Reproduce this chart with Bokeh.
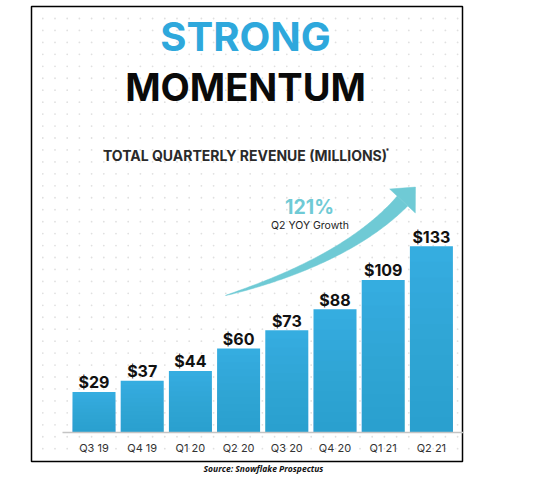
import numpy as np
from bokeh.plotting import figure
from bokeh.models import Range1d
from bokeh.core.properties import value
from bokeh.embed import file_html
from bokeh.resources import INLINE

# Quarterly revenue, $ millions
quarters = ["Q3 19", "Q4 19", "Q1 20", "Q2 20", "Q3 20", "Q4 20", "Q1 21", "Q2 21"]
revenue = [29, 37, 44, 60, 73, 88, 109, 133]
growth_label = "121%"
growth_caption = "Q2 YOY Growth"

W, H = 559, 479
FONT = value("Inter")
BLUE = "#35ade0"
TEAL = "#6fcad5"
# the SVG renderer sets alphabetic text a little low; lift baselines by this share of the font size
LIFT = 0.34

idx = np.arange(len(quarters))

# Bars live in (index, $M) space; decorations use a pixel-like extra range (y downwards).
PX_PER_UNIT = 1.4
BASE_PX = 432          # baseline position from the top
BAR0_PX, STEP_PX = 93.5, 48.2
p = figure(
    width=W, height=H,
    x_range=Range1d(-BAR0_PX / STEP_PX, (W - BAR0_PX) / STEP_PX),
    y_range=Range1d(-(H - BASE_PX) / PX_PER_UNIT, BASE_PX / PX_PER_UNIT),
    x_axis_location=None, y_axis_location=None,
    output_backend="svg", toolbar_location=None, min_border=0,
)
p.extra_x_ranges["px"] = Range1d(0, W)
p.extra_y_ranges["px"] = Range1d(H, 0)
p.grid.visible = False
p.outline_line_color = None
p.background_fill_color = "white"
p.border_fill_color = "white"

# dotted backdrop
gx = np.arange(42.3, 459, 12.2)
gy = np.arange(18.0, 456, 11.95)
dx, dy = np.meshgrid(gx, gy)
p.scatter(dx.ravel(), dy.ravel(), size=1.8, color="#e0e0e0", line_color=None,
          x_range_name="px", y_range_name="px")

# frame
p.quad(left=[31], right=[462], top=[6], bottom=[461], fill_color=None,
       line_color="black", line_width=1.5, x_range_name="px", y_range_name="px")

# bars with a soft vertical shading (darker towards the base)
bw = 43 / STEP_PX
p.vbar(x=idx, top=revenue, bottom=0, width=bw, fill_color=BLUE, line_color=None)
steps = 12
for j in range(1, steps):
    frac = 1 - j / steps
    p.vbar(x=idx, top=[v * frac for v in revenue], bottom=0, width=bw,
           fill_color="#1a7fb5", fill_alpha=0.025, line_color=None)

# baseline
p.segment(x0=[62], x1=[463], y0=[0], y1=[0], line_color="#c4c4c4", line_width=1.5,
          x_range_name="px")

# value labels, baseline 4px above each bar
lbl_px = 16
p.text(x=idx, y=[v + (4 + LIFT * lbl_px) / PX_PER_UNIT for v in revenue],
       text=[f"${v}" for v in revenue],
       text_font=FONT, text_font_size=f"{lbl_px}px", text_font_style="bold",
       text_color="#111111", text_align="center", text_baseline="alphabetic")

# category labels
cat_px = 11
p.text(x=idx, y=[451 - LIFT * cat_px] * len(quarters), text=quarters, y_range_name="px",
       text_font=FONT, text_font_size=f"{cat_px}px", text_color="#333333",
       text_align="center", text_baseline="alphabetic")

# growth arrow: tapered quadratic curve plus head
P0 = np.array([225.0, 295.0])
P1 = np.array([347.0, 259.6])
P2 = np.array([402.0, 200.5])
t = np.linspace(0, 1, 80)[:, None]
curve = (1 - t) ** 2 * P0 + 2 * (1 - t) * t * P1 + t ** 2 * P2
deriv = 2 * (1 - t) * (P1 - P0) + 2 * t * (P2 - P1)
tang = deriv / np.linalg.norm(deriv, axis=1, keepdims=True)
norm = np.column_stack([-tang[:, 1], tang[:, 0]])
half = 7.2 * t[:, 0] ** 0.75
upper = curve + norm * half[:, None]
lower = curve - norm * half[:, None]
body = np.vstack([upper, lower[::-1]])
p.patch(body[:, 0], body[:, 1], fill_color=TEAL, line_color=TEAL, line_width=0.5,
        x_range_name="px", y_range_name="px")
te, ne = tang[-1], norm[-1]
tip = P2 + 19 * te
c1 = P2 + 17.5 * ne
c2 = P2 - 17.5 * ne
p.patch([c1[0], tip[0], c2[0]], [c1[1], tip[1], c2[1]], fill_color=TEAL,
        line_color=TEAL, line_width=0.5, x_range_name="px", y_range_name="px")

# headings
def txt(x, y, s, size, color, style="bold", font=FONT, align="center"):
    p.text(x=[x], y=[y - LIFT * size], text=[s], text_font=font,
           text_font_size=f"{size}px", text_font_style=style, text_color=color,
           text_align=align, text_baseline="alphabetic",
           x_range_name="px", y_range_name="px")

txt(245, 50, "STRONG", 40, "#2ea8dc")
txt(245, 99, "MOMENTUM", 38, "#0a0a0a")
txt(244.5, 159.5, "TOTAL QUARTERLY REVENUE (MILLIONS)", 14, "#2a2a2a")
txt(385, 153, "*", 7, "#2a2a2a", align="left")
txt(309, 213, growth_label, 19.5, TEAL)
txt(309.5, 228.5, growth_caption, 10.5, "#222222", style="normal")
txt(263, 470.5, "Source: Snowflake Prospectus", 8.5, "#111111",
    style="bold italic", font=value("Open Sans"))

open("out.html", "w").write(file_html(p, INLINE))
